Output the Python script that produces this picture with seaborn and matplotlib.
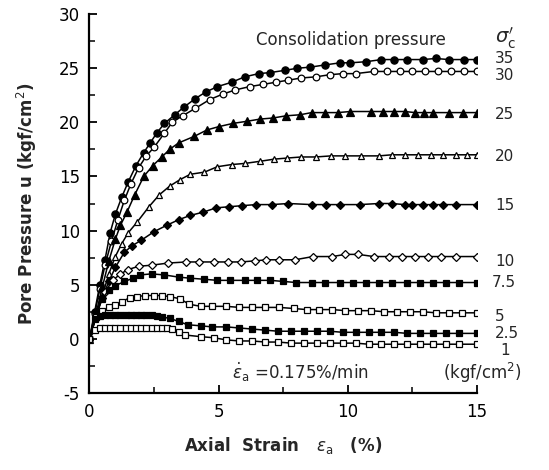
import matplotlib
matplotlib.use("Agg")
import matplotlib.pyplot as plt
import seaborn as sns
from matplotlib.ticker import MultipleLocator

# ---- data ----
s35_x = [0, 0.2, 0.4, 0.6, 0.8, 1.0, 1.25, 1.5, 1.8, 2.1, 2.35, 2.6, 2.9, 3.3, 3.65, 4.1, 4.5, 4.95, 5.5, 6.0,
         6.55, 7.0, 7.55, 8.05, 8.55, 9.1, 9.7, 10.1, 10.7, 11.3, 11.8, 12.3, 12.9, 13.4, 13.9, 14.5, 15.0]
s35_y = [0, 2.5, 5.0, 7.3, 9.8, 11.5, 13.1, 14.5, 16.0, 17.2, 18.1, 19.0, 19.9, 20.7, 21.4, 22.2, 22.8, 23.3, 23.7, 24.2,
         24.5, 24.6, 24.8, 25.0, 25.1, 25.3, 25.5, 25.5, 25.6, 25.8, 25.8, 25.8, 25.8, 25.9, 25.8, 25.8, 25.8]

s30_x = [0, 0.2, 0.4, 0.6, 0.85, 1.1, 1.35, 1.6, 1.9, 2.2, 2.5, 2.9, 3.2, 3.6, 4.1, 4.65, 5.15, 5.65, 6.2, 6.7,
         7.2, 7.7, 8.2, 8.75, 9.3, 9.8, 10.3, 11.0, 11.5, 12.0, 12.5, 13.0, 13.5, 14.0, 14.5, 15.0]
s30_y = [0, 2.3, 4.6, 6.8, 9.0, 11.0, 12.8, 14.3, 15.8, 16.9, 17.7, 19.0, 20.0, 20.6, 21.3, 22.1, 22.6, 23.0, 23.3, 23.5,
         23.7, 23.9, 24.1, 24.2, 24.4, 24.5, 24.5, 24.7, 24.7, 24.7, 24.7, 24.7, 24.7, 24.7, 24.7, 24.7]

s25_x = [0, 0.25, 0.5, 0.75, 1.0, 1.2, 1.45, 1.75, 2.1, 2.45, 2.8, 3.1, 3.45, 4.05, 4.55, 5.0, 5.55, 6.1, 6.6, 7.1,
         7.6, 8.15, 8.6, 9.1, 9.6, 10.1, 10.9, 11.35, 11.8, 12.2, 12.6, 12.95, 13.3, 13.9, 14.45, 15.0]
s25_y = [0, 2.3, 4.8, 7.2, 9.2, 10.5, 11.7, 13.3, 15.0, 16.0, 16.8, 17.5, 18.1, 18.7, 19.3, 19.6, 19.9, 20.1, 20.3, 20.4,
         20.6, 20.7, 20.9, 20.9, 20.9, 21.0, 21.0, 21.0, 21.0, 21.0, 20.9, 20.9, 20.9, 20.9, 20.9, 20.9]

s20_x = [0, 0.25, 0.5, 0.75, 1.0, 1.25, 1.5, 1.85, 2.3, 2.7, 3.1, 3.5, 3.9, 4.45, 4.95, 5.5, 6.0, 6.6, 7.15, 7.65,
         8.2, 8.75, 9.35, 9.9, 10.5, 11.2, 11.7, 12.2, 12.7, 13.2, 13.7, 14.2, 14.6, 15.0]
s20_y = [0, 2.0, 4.0, 6.0, 7.6, 8.8, 9.8, 10.8, 12.2, 13.3, 14.1, 14.7, 15.2, 15.4, 15.9, 16.1, 16.2, 16.4, 16.6, 16.7,
         16.8, 16.8, 16.9, 16.9, 16.9, 16.9, 17.0, 17.0, 17.0, 17.0, 17.0, 17.0, 17.0, 17.0]

s15_x = [0, 0.25, 0.5, 0.75, 1.0, 1.35, 1.65, 2.0, 2.5, 3.0, 3.45, 3.9, 4.4, 4.9, 5.4, 5.9, 6.45, 7.05, 7.7, 8.6,
         9.15, 9.7, 10.45, 11.2, 11.7, 12.2, 12.5, 12.9, 13.3, 13.7, 14.2, 15.0]
s15_y = [0, 2.0, 3.8, 5.3, 6.6, 8.0, 8.6, 9.1, 9.9, 10.5, 11.0, 11.4, 11.7, 12.1, 12.2, 12.3, 12.4, 12.4, 12.5, 12.4,
         12.4, 12.4, 12.4, 12.5, 12.5, 12.4, 12.4, 12.4, 12.4, 12.4, 12.4, 12.4]

s10_x = [0, 0.3, 0.6, 0.9, 1.2, 1.5, 1.9, 2.4, 3.05, 3.75, 4.25, 4.8, 5.35, 5.85, 6.4, 6.85, 7.35, 7.95, 8.65, 9.4,
         9.9, 10.4, 11.0, 11.6, 12.1, 12.6, 13.1, 13.6, 14.2, 15.0]
s10_y = [0, 2.6, 4.3, 5.4, 6.0, 6.4, 6.7, 6.8, 7.0, 7.1, 7.1, 7.1, 7.1, 7.1, 7.2, 7.3, 7.3, 7.3, 7.6, 7.6,
         7.8, 7.8, 7.6, 7.6, 7.6, 7.6, 7.6, 7.6, 7.6, 7.6]

s7_5_x = [0, 0.25, 0.5, 0.75, 1.0, 1.35, 1.7, 1.95, 2.4, 2.9, 3.45, 3.9, 4.45, 4.95, 5.45, 6.0, 6.5, 7.0, 7.5, 8.0,
          8.6, 9.1, 9.7, 10.2, 10.7, 11.2, 11.7, 12.3, 12.8, 13.3, 13.8, 14.3, 15.0]
s7_5_y = [0, 2.5, 3.7, 4.5, 4.9, 5.3, 5.6, 5.9, 6.0, 5.9, 5.7, 5.6, 5.5, 5.4, 5.4, 5.4, 5.4, 5.4, 5.3, 5.2,
          5.2, 5.2, 5.2, 5.2, 5.2, 5.2, 5.2, 5.2, 5.2, 5.2, 5.2, 5.2, 5.2]

s5_x = [0, 0.25, 0.5, 0.75, 1.0, 1.25, 1.55, 1.85, 2.15, 2.5, 2.8, 3.1, 3.5, 3.85, 4.3, 4.75, 5.3, 5.8, 6.3, 6.8,
        7.35, 7.9, 8.4, 8.9, 9.4, 9.9, 10.4, 10.9, 11.4, 11.9, 12.4, 12.9, 13.4, 13.9, 14.4, 15.0]
s5_y = [0, 2.0, 2.6, 2.9, 3.1, 3.4, 3.8, 3.9, 4.0, 4.0, 4.0, 3.9, 3.7, 3.2, 3.0, 3.0, 3.0, 2.9, 2.9, 2.9,
        2.9, 2.8, 2.7, 2.7, 2.7, 2.6, 2.6, 2.6, 2.5, 2.5, 2.5, 2.5, 2.4, 2.4, 2.4, 2.4]

s2_5_x = [0, 0.2, 0.4, 0.6, 0.8, 1.0, 1.2, 1.4, 1.6, 1.8, 2.0, 2.2, 2.4, 2.6, 2.8, 3.1, 3.45, 3.8, 4.3, 4.75,
          5.3, 5.8, 6.3, 6.8, 7.3, 7.8, 8.3, 8.8, 9.3, 9.8, 10.3, 10.8, 11.3, 11.8, 12.3, 12.8, 13.3, 13.8, 14.3, 15.0]
s2_5_y = [0, 1.8, 2.1, 2.2, 2.2, 2.2, 2.2, 2.2, 2.2, 2.2, 2.2, 2.2, 2.2, 2.1, 2.0, 1.9, 1.6, 1.3, 1.2, 1.1,
          1.1, 1.0, 0.9, 0.8, 0.7, 0.7, 0.7, 0.7, 0.7, 0.6, 0.6, 0.6, 0.6, 0.6, 0.5, 0.5, 0.5, 0.5, 0.5, 0.5]

s1_x = [0, 0.2, 0.4, 0.6, 0.8, 1.0, 1.2, 1.4, 1.6, 1.8, 2.0, 2.2, 2.4, 2.6, 2.8, 3.0, 3.2, 3.45, 3.7, 4.3,
        4.8, 5.3, 5.8, 6.3, 6.8, 7.3, 7.8, 8.3, 8.8, 9.3, 9.8, 10.3, 10.8, 11.3, 11.8, 12.3, 12.8, 13.3, 13.8, 14.3, 15.0]
s1_y = [0, 0.8, 1.0, 1.0, 1.0, 1.0, 1.0, 1.0, 1.0, 1.0, 1.0, 1.0, 1.0, 1.0, 1.0, 1.0, 0.9, 0.65, 0.35, 0.2,
        0.1, -0.1, -0.2, -0.2, -0.3, -0.3, -0.4, -0.4, -0.4, -0.4, -0.4, -0.4, -0.5, -0.5, -0.5, -0.5, -0.5, -0.5, -0.5, -0.5, -0.5]

series_labels = ["35", "30", "25", "20", "15", "10", "7.5", "5", "2.5", "1"]
label_y = [25.9, 24.3, 20.7, 16.8, 12.3, 7.1, 5.2, 2.1, 0.5, -1.1]

x_ticks = [0, 5, 10, 15]
y_ticks = [-5, 0, 5, 10, 15, 20, 25, 30]

sns.set_theme(style="ticks")
plt.rcParams["font.family"] = ["DejaVu Sans"]
plt.rcParams["axes.unicode_minus"] = False

fig = plt.figure(figsize=(5.49, 4.70), dpi=100)
ax = fig.add_axes([0.163, 0.164, 0.706, 0.806])

common = dict(color="black", linewidth=1.1, markeredgecolor="black", markeredgewidth=0.9,
              estimator=None, ax=ax, legend=False)

styles = [
    (s35_x, s35_y, "o", "black", 5.2),
    (s30_x, s30_y, "o", "white", 4.8),
    (s25_x, s25_y, "^", "black", 5.5),
    (s20_x, s20_y, "^", "white", 5.0),
    (s15_x, s15_y, "D", "black", 3.8),
    (s10_x, s10_y, "D", "white", 3.8),
    (s7_5_x, s7_5_y, "s", "black", 4.8),
    (s5_x, s5_y, "s", "white", 4.6),
    (s2_5_x, s2_5_y, "s", "black", 4.4),
    (s1_x, s1_y, "s", "white", 4.4),
]

for xs, ys, mk, fc, ms in styles:
    sns.lineplot(x=xs, y=ys, marker=mk, markerfacecolor=fc, markersize=ms, **common)

# dot inside the open squares of the 5 kgf/cm2 series
sns.scatterplot(x=s5_x, y=s5_y, marker="s", s=1.2, color="black", linewidth=0, ax=ax, legend=False)

ax.set_xlim(0, 15)
ax.set_ylim(-5, 30)
ax.set_xticks(x_ticks)
ax.set_yticks(y_ticks)
ax.xaxis.set_minor_locator(MultipleLocator(2.5))
ax.yaxis.set_minor_locator(MultipleLocator(2.5))
ax.tick_params(axis="both", which="major", direction="in", length=6, width=1.3, labelsize=12, pad=7,
               colors="black")
ax.tick_params(axis="both", which="minor", direction="in", length=4, width=1.3)
for side in ["top", "right"]:
    ax.spines[side].set_visible(False)
for side in ["left", "bottom"]:
    ax.spines[side].set_linewidth(1.6)
    ax.spines[side].set_color("black")

ax.set_xlabel(r"Axial  Strain   $\varepsilon_{\mathrm{a}}$   (%)", fontsize=12, fontweight="bold", labelpad=10)
ax.set_ylabel(r"Pore Pressure u (kgf/cm$^{2}$)", fontsize=12, fontweight="bold", labelpad=14)

for lab, yy in zip(series_labels, label_y):
    xx = 15.55 if lab == "7.5" else (15.9 if lab == "1" else 15.7)
    ax.text(xx, yy, lab, fontsize=11, ha="left", va="center", clip_on=False)

ax.text(6.45, 27.6, "Consolidation pressure", fontsize=12, ha="left", va="center")
ax.text(15.7, 27.8, r"$\sigma_{\mathrm{c}}'$", fontsize=14, ha="left", va="center", clip_on=False)
ax.text(5.5, -3.1, r"$\dot{\varepsilon}_{\mathrm{a}}$ =0.175%/min", fontsize=12, ha="left", va="center")
ax.text(13.7, -3.2, r"(kgf/cm$^{2}$)", fontsize=12, ha="left", va="center", clip_on=False)

fig.savefig("out.png", dpi=100)
